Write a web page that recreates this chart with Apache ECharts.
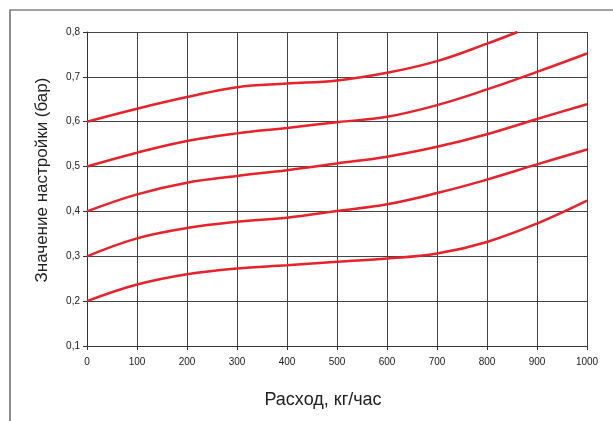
<!DOCTYPE html>
<html><head><meta charset="utf-8">
<script src="https://cdn.jsdelivr.net/npm/echarts@6/dist/echarts.min.js"></script>
<style>html,body{margin:0;padding:0;background:#fff}#c{width:613px;height:421px}</style>
</head><body><div id="c"></div>
<script>
const flow = [0, 100, 200, 300, 400, 500, 600, 700, 800, 900, 1000];
const curve06 = [0.600, 0.629, 0.655, 0.677, 0.685, 0.692, 0.709, 0.735, 0.774];
const curve06End = [861, 0.8];
const curve05 = [0.500, 0.531, 0.557, 0.574, 0.586, 0.599, 0.611, 0.637, 0.672, 0.711, 0.752];
const curve04 = [0.400, 0.438, 0.464, 0.479, 0.492, 0.507, 0.522, 0.544, 0.572, 0.606, 0.639];
const curve03 = [0.300, 0.340, 0.363, 0.377, 0.386, 0.401, 0.416, 0.441, 0.471, 0.505, 0.538];
const curve02 = [0.200, 0.237, 0.260, 0.273, 0.280, 0.288, 0.295, 0.306, 0.332, 0.373, 0.424];
const yTicks = [0.1, 0.2, 0.3, 0.4, 0.5, 0.6, 0.7, 0.8];
const xTitle = 'Расход, кг/час';
const yTitle = 'Значение настройки (бар)';

function pts(vals) { return vals.map((v, i) => [flow[i], v]); }
const s1 = pts(curve06).concat([curve06End]);
const FONT = '"Liberation Sans", Arial, sans-serif';

const chart = echarts.init(document.getElementById('c'), null, {renderer: 'canvas'});
const lineStyle = {color: '#e8222b', width: 2.5};
const mk = d => ({type: 'line', data: d, smooth: 0.4, showSymbol: false, symbol: 'none', lineStyle: lineStyle, animation: false});
chart.setOption({
  animation: false,
  graphic: [
    {type: 'rect', shape: {x: 10, y: 10, width: 700, height: 500}, style: {fill: 'none', stroke: '#444', lineWidth: 1.2}},
    {type: 'text', x: 323, y: 400, style: {text: xTitle, textAlign: 'center', textVerticalAlign: 'middle', font: '18px ' + FONT, fill: '#222'}},
    {type: 'text', rotation: Math.PI / 2, x: 42, y: 180, style: {text: yTitle, textAlign: 'center', textVerticalAlign: 'middle', font: '17px ' + FONT, fill: '#222'}}
  ],
  grid: {left: 87, top: 32, width: 500, height: 314, containLabel: false},
  xAxis: {
    type: 'value', min: 0, max: 1000, interval: 100,
    axisLine: {show: true, lineStyle: {color: '#333', width: 1}},
    axisTick: {show: true, length: 4, lineStyle: {color: '#333'}},
    axisLabel: {color: '#222', fontSize: 10, margin: 11, fontFamily: FONT, formatter: v => String(Math.round(v))},
    splitLine: {show: true, lineStyle: {color: '#444', width: 1}}
  },
  yAxis: {
    type: 'value', min: 0.1, max: 0.8, interval: 0.1,
    axisLine: {show: true, lineStyle: {color: '#333', width: 1}},
    axisTick: {show: true, length: 4, lineStyle: {color: '#333'}},
    axisLabel: {color: '#222', fontSize: 10, margin: 7, fontFamily: FONT,
      formatter: v => { const t = yTicks.find(x => Math.abs(x - v) < 1e-6); return t === undefined ? '' : t.toFixed(1).replace('.', ','); }},
    splitLine: {show: true, lineStyle: {color: '#444', width: 1}}
  },
  series: [mk(s1), mk(pts(curve05)), mk(pts(curve04)), mk(pts(curve03)), mk(pts(curve02))]
});
</script></body></html>
